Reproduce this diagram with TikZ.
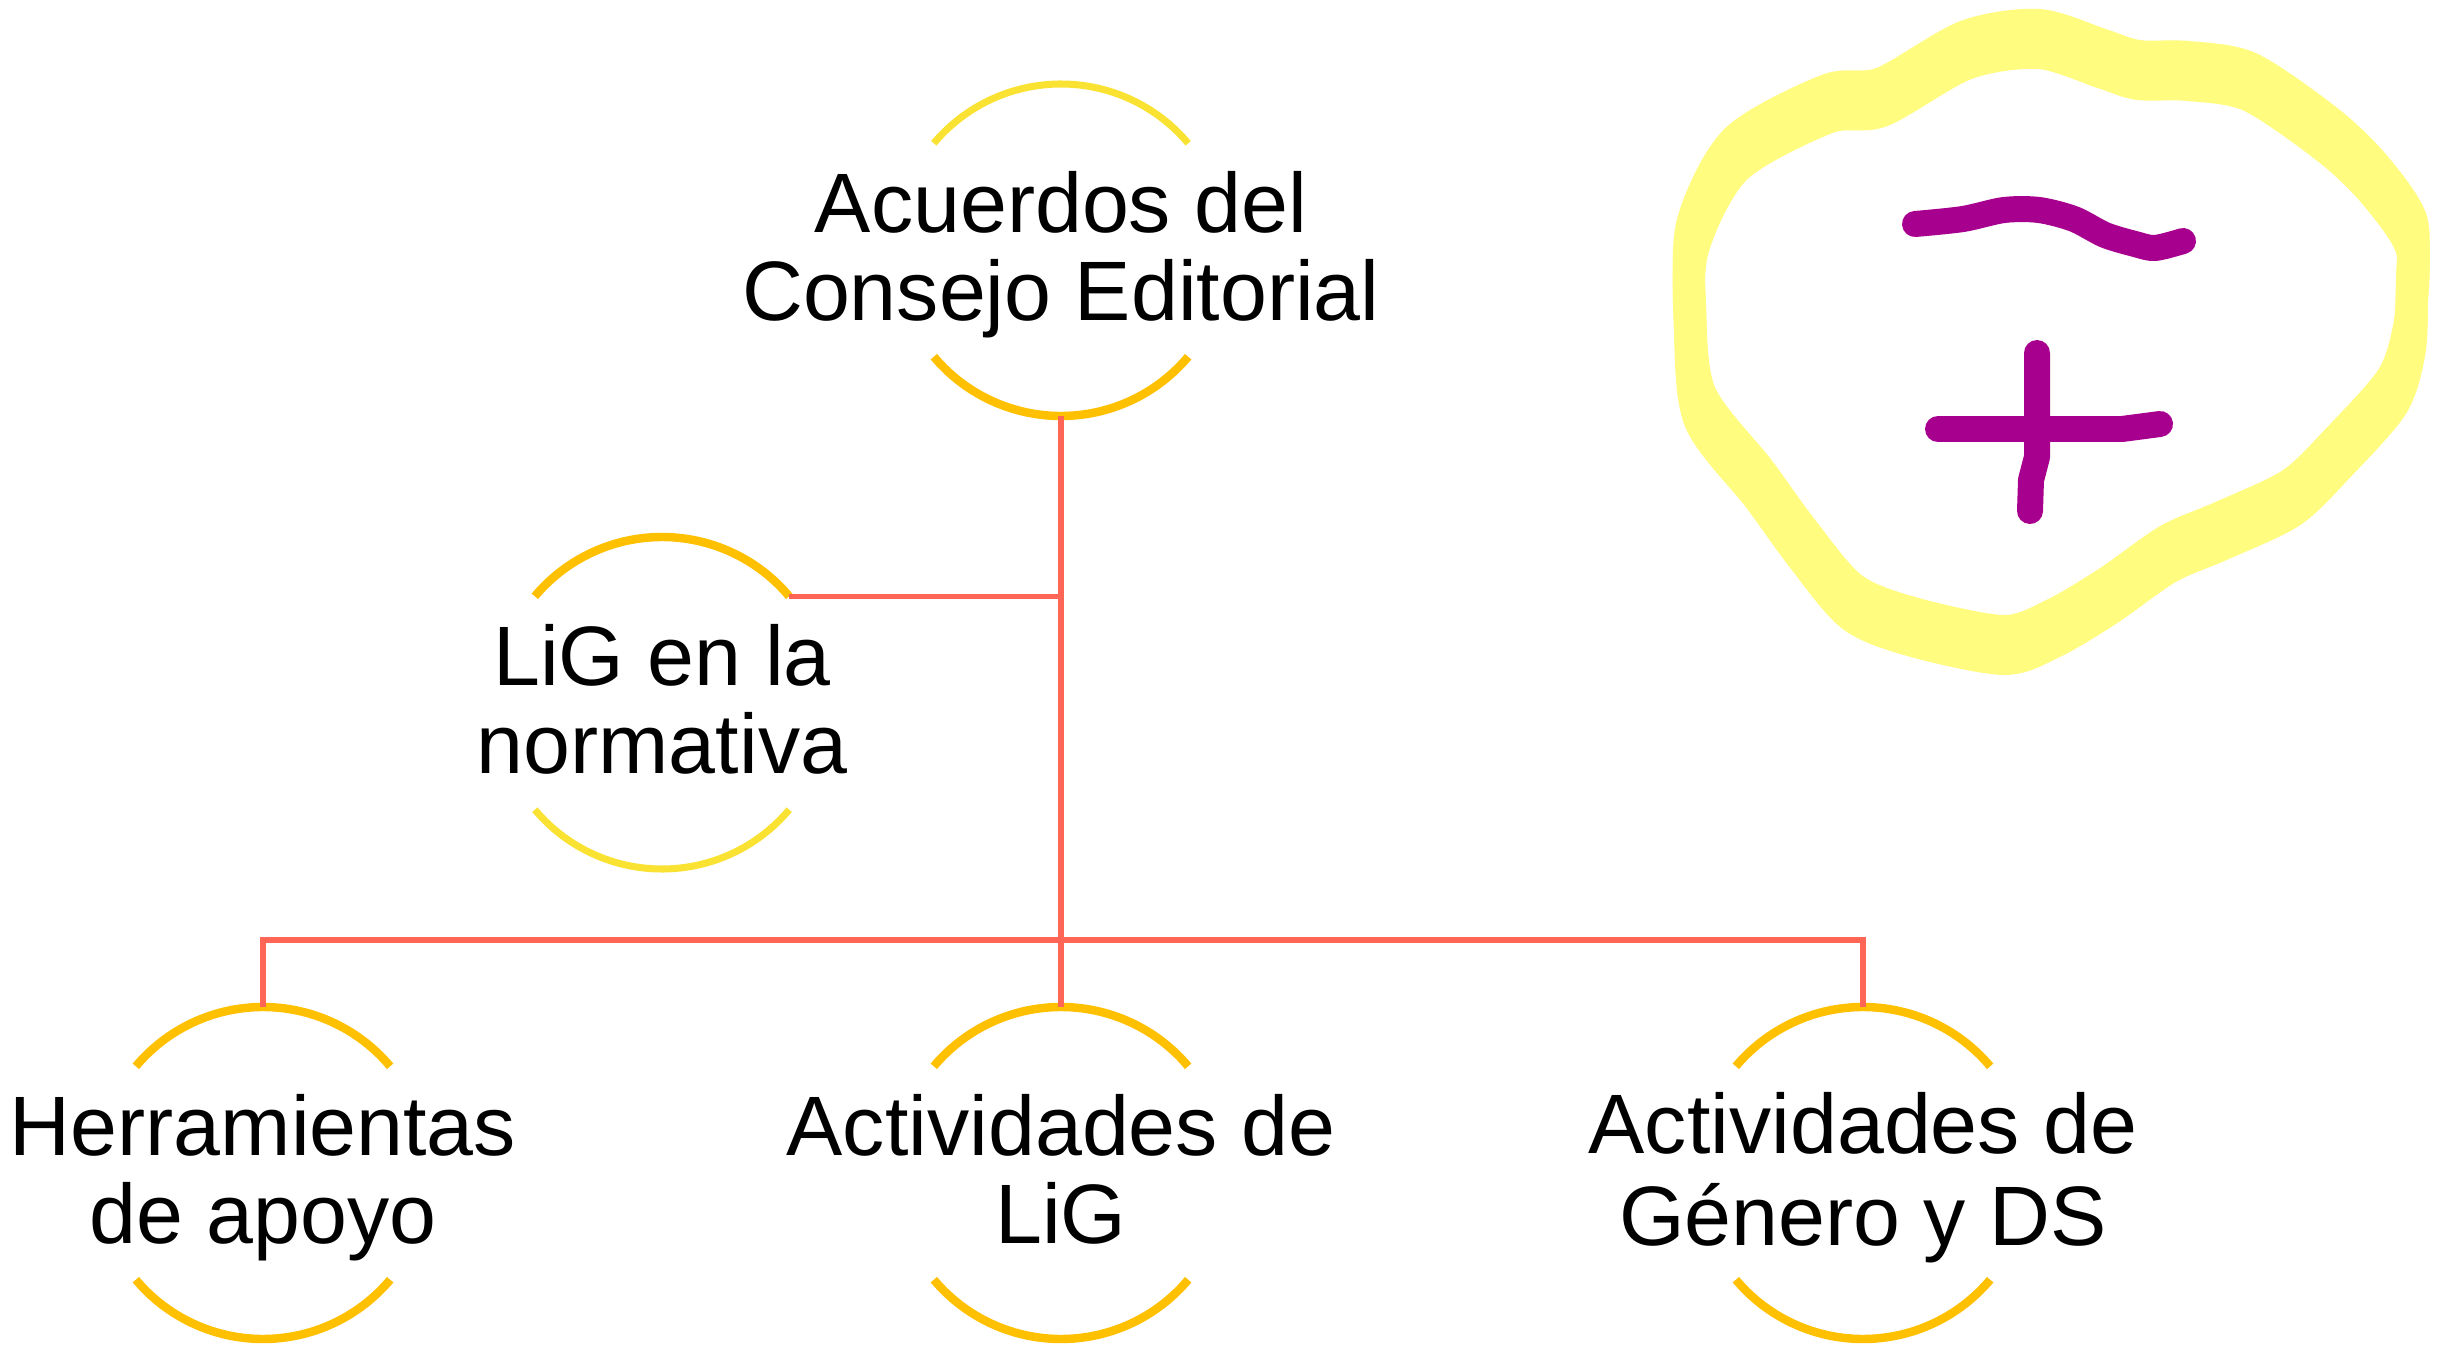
\documentclass[tikz,border=0pt]{standalone}
\usepackage{fontspec}
\setmainfont{Liberation Sans}
\definecolor{linkred}{RGB}{255,102,85}
\definecolor{arcgold}{RGB}{255,192,0}
\definecolor{arclight}{RGB}{250,226,50}
\definecolor{marker}{RGB}{255,252,128}
\definecolor{ink}{RGB}{168,0,142}

\begin{document}
\begin{tikzpicture}[
  hub/.style={circle,minimum size=3.32cm,inner sep=0pt,outer sep=0pt},
  txt/.style={align=center,yshift=-0.09cm,font=\fontsize{24}{25}\selectfont},
  gold/.style={arcgold,line width=2.4pt},
  light/.style={arclight,line width=2pt},
  link/.style={linkred,line width=1.5pt},
  pen/.style={marker,line width=0.32cm,line cap=round,line join=round},
  scribble/.style={ink,line width=0.26cm,line cap=round,line join=round}]

\useasboundingbox (0,0) rectangle (24.41,13.44);

\node[hub,label={[txt]center:{\strut Acuerdos del\\\strut Consejo Editorial}}] (acuerdos) at (10.61,10.94) {};
\node[hub,label={[txt]center:{\strut LiG en la\\\strut normativa}}] (normativa) at (6.62,6.41) {};
\node[hub,label={[txt]center:{\strut Herramientas\\\strut de apoyo}}] (herramientas) at (2.63,1.71) {};
\node[hub,label={[txt]center:{\strut Actividades de\\\strut LiG}}] (actlig) at (10.61,1.71) {};
\node[hub,label={[txt]center:{\strut Actividades de\\\strut Género y DS}}] (actgen) at (18.63,1.71) {};

\draw[light] (acuerdos.40) arc [start angle=40, end angle=140, radius=1.66];
\draw[gold] (acuerdos.220) arc [start angle=220, end angle=320, radius=1.66];
\draw[gold] (normativa.40) arc [start angle=40, end angle=140, radius=1.66];
\draw[light] (normativa.220) arc [start angle=220, end angle=320, radius=1.66];
\foreach \n in {herramientas,actlig,actgen} {
  \draw[gold] (\n.40) arc [start angle=40, end angle=140, radius=1.66];
  \draw[gold] (\n.220) arc [start angle=220, end angle=320, radius=1.66];
}

\coordinate (bus) at (10.61,4.04);
\draw[link] (acuerdos.south) -- (actlig.north);
\draw[link] (normativa.40) -- (normativa.40 -| acuerdos.south);
\draw[link] (herramientas.north) |- (bus) -| (actgen.north);

% marker loop and scribbles
\foreach \s in {-0.14,-0.07,0,0.07,0.14}
  \draw[pen,yshift=\s cm] plot [smooth cycle] coordinates {(16.90,10.27) (16.93,11.09) (17.36,11.90) (18.27,12.40) (18.82,12.47) (19.66,12.94) (20.39,13.05) (21.03,12.85) (21.38,12.74) (21.88,12.73) (22.50,12.62) (23.28,12.09) (23.74,11.65) (24.11,11.11) (24.12,10.53) (24.09,10.03) (23.92,9.52) (23.38,8.91) (22.91,8.46) (22.21,8.13) (21.68,7.90) (21.08,7.48) (20.54,7.16) (20.04,6.99) (19.13,7.17) (18.52,7.42) (18.02,8.01) (17.59,8.60) (17.00,9.37)};

\draw[scribble] plot [smooth] coordinates {(19.15,11.20) (19.63,11.25) (20.04,11.34) (20.39,11.34) (20.74,11.25) (21.05,11.09) (21.35,11.00) (21.55,10.96) (21.83,11.03)};
\draw[scribble] (19.38,9.15) -- (21.22,9.15) -- (21.60,9.20);
\draw[scribble] (20.37,9.91) -- (20.37,8.87) -- (20.31,8.64) -- (20.30,8.33);
\end{tikzpicture}
\end{document}
